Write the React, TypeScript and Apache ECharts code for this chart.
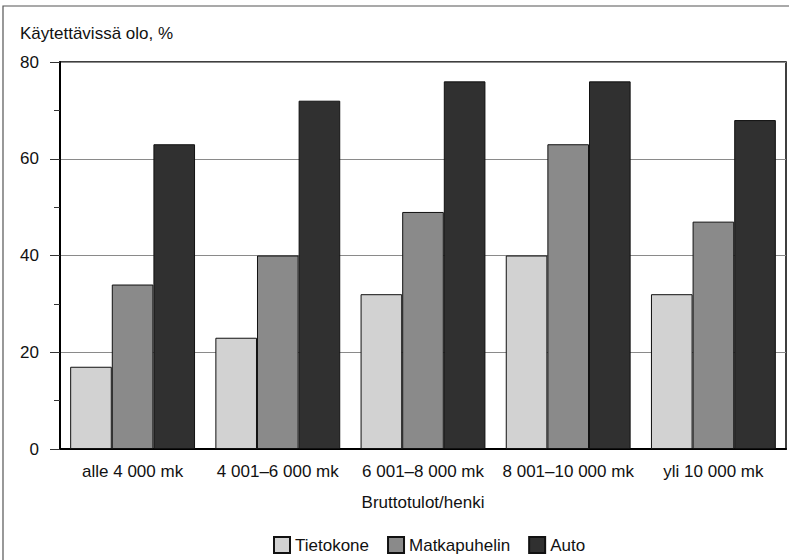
import React, { useEffect, useRef } from "react";
import * as echarts from "echarts";

const categories = ["alle 4 000 mk", "4 001–6 000 mk", "6 001–8 000 mk", "8 001–10 000 mk", "yli 10 000 mk"];
const tietokone = [17, 23, 32, 40, 32];
const matkapuhelin = [34, 40, 49, 63, 47];
const auto = [63, 72, 76, 76, 68];
const seriesNames = ["Tietokone", "Matkapuhelin", "Auto"];
const yTicks = [0, 20, 40, 60, 80];
const titleText = "Käytettävissä olo, %";
const xAxisTitle = "Bruttotulot/henki";

const FONT = "'Liberation Sans', Arial, Helvetica, sans-serif";
const FS = 17;

export default function App() {
  const ref = useRef<HTMLDivElement>(null);
  useEffect(() => {
    if (!ref.current) return;
    const chart = echarts.init(ref.current, undefined, { renderer: "svg" });
    const colors = ["#d2d2d2", "#8a8a8a", "#303030"];
    const data = [tietokone, matkapuhelin, auto];
    chart.setOption({
      animation: false,
      backgroundColor: "#ffffff",
      textStyle: { fontFamily: FONT, color: "#111" },
      graphic: [
        {
          type: "rect",
          shape: { x: 3, y: 6, width: 820, height: 620 },
          style: { fill: "none", stroke: "#555", lineWidth: 1.2 },
          silent: true,
        },
        {
          type: "text",
          left: 20,
          top: 25,
          style: { text: titleText, fontSize: FS, fontFamily: FONT, fill: "#111" },
        },
      ],
      grid: {
        left: 60,
        right: 3,
        top: 62,
        bottom: 111,
        show: true,
        borderColor: "#000",
        borderWidth: 1.5,
        backgroundColor: "transparent",
      },
      legend: {
        left: 268,
        top: 531,
        itemWidth: 16,
        itemHeight: 16,
        itemGap: 18,
        icon: "rect",
        textStyle: { fontSize: FS, fontFamily: FONT, color: "#111" },
        data: seriesNames,
      },
      xAxis: {
        type: "category",
        data: categories,
        axisLine: { show: true, lineStyle: { color: "#000", width: 2 } },
        axisTick: { show: false },
        axisLabel: { fontSize: FS, fontFamily: FONT, color: "#111", margin: 14, interval: 0 },
        name: xAxisTitle,
        nameLocation: "middle",
        nameGap: 45,
        nameTextStyle: { fontSize: FS, fontFamily: FONT, color: "#111" },
      },
      yAxis: {
        type: "value",
        min: yTicks[0],
        max: yTicks[yTicks.length - 1],
        interval: 20,
        axisLine: { show: true, lineStyle: { color: "#000", width: 2 } },
        axisTick: { show: true, inside: false, length: 10, lineStyle: { color: "#333" } },
        minorTick: { show: true, splitNumber: 2, length: 6, lineStyle: { color: "#333" } },
        splitLine: { show: true, lineStyle: { color: "#8a8a8a", width: 1 } },
        axisLabel: { fontSize: FS, fontFamily: FONT, color: "#111", margin: 21 },
      },
      series: seriesNames.map((name, i) => ({
        name,
        type: "bar",
        data: data[i],
        barGap: "0%",
        barCategoryGap: "14%",
        itemStyle: { color: colors[i], borderColor: "#111", borderWidth: 1 },
      })),
    });
    return () => chart.dispose();
  }, []);
  return (
    <div
      ref={ref}
      style={{ position: "fixed", left: 0, top: 0, width: 789, height: 560, background: "#fff" }}
    />
  );
}
